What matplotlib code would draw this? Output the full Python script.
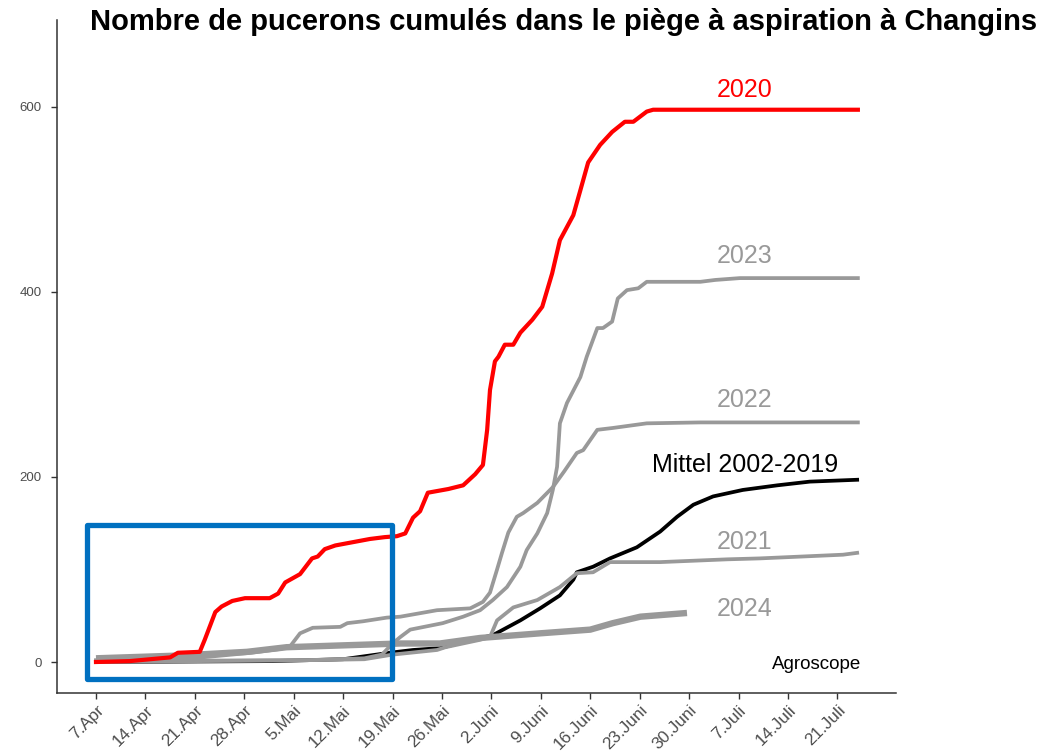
import matplotlib
matplotlib.use("Agg")
import matplotlib.pyplot as plt
from matplotlib.patches import Rectangle

plt.rcParams['font.family'] = ['Liberation Sans', 'DejaVu Sans']

# x = days since 7 April
tick_days = [0, 7, 14, 21, 28, 35, 42, 49, 56, 63, 70, 77, 84, 91, 98, 105]
tick_labels = ['7.Apr', '14.Apr', '21.Apr', '28.Apr', '5.Mai', '12.Mai', '19.Mai',
               '26.Mai', '2.Juni', '9.Juni', '16.Juni', '23.Juni', '30.Juni',
               '7.Juli', '14.Juli', '21.Juli']

d2020 = [0, 4.8, 10.5, 11.6, 14.7, 15.4, 16.9, 17.8, 19.3, 21.1, 24.6, 25.8, 26.8, 28.2, 28.9,
         30.6, 31.4, 32.4, 33.9, 35.3, 36.7, 38.8, 40.9, 42.6, 43.8, 44.9, 45.9, 47.0, 49.9,
         52.0, 53.7, 54.8, 55.4, 55.8, 56.5, 57.0, 57.9, 59.1, 60.1, 61.8, 63.2, 64.6, 65.7,
         67.6, 68.6, 69.7, 71.4, 73.1, 74.9, 76.1, 78.0, 78.9, 107.9]
v2020 = [0, 1, 5, 10, 11, 24, 54, 60, 66, 69, 69, 74, 86, 92, 95,
         112, 114, 122, 126, 128, 130, 133, 135, 136, 139, 156, 163, 183, 187,
         191, 203, 213, 251, 294, 325, 330, 343, 343, 356, 370, 384, 420, 456,
         483, 510, 540, 559, 573, 584, 584, 595, 597, 597]

d2023 = [0, 30, 38, 40.5, 42, 43.1, 44.5, 49.1, 52, 54.4, 56.2, 58.2, 60.1, 61, 62.5, 63.9,
         64.7, 65.3, 65.7, 66.7, 68.6, 69.5, 71, 71.8, 73.1, 73.9, 75.2, 76.8, 78, 85.6,
         87.7, 91.2, 107.9]
v2023 = [1, 2, 4, 8, 20, 27, 35, 42, 49, 56, 67, 81, 103, 121, 139, 161,
         186, 211, 258, 280, 308, 330, 361, 361, 368, 393, 402, 404, 411, 411,
         413, 415, 415]

d2022 = [0, 15, 22, 26, 27.5, 28.9, 30.7, 34.6, 35.6, 37.8, 41.2, 43.1, 48.3, 53, 54.8,
         55.8, 56.8, 57.5, 58.4, 59.6, 60.5, 62.5, 64.7, 66.3, 68.1, 69, 71, 73.2, 78,
         85.6, 107.9]
v2022 = [2, 5, 10, 14, 17, 31, 37, 38, 42, 44, 48, 49, 56, 58, 65,
         75, 100, 118, 140, 157, 161, 172, 189, 206, 226, 229, 251, 253, 258,
         259, 259]

dMittel = [0, 25, 35, 41.6, 44.9, 48.7, 53.4, 56.2, 60.1, 62.9, 65.7, 67.6, 68.1, 70.4,
           72.8, 76.6, 79.9, 82.3, 84.6, 87.4, 91.6, 96.5, 101.1, 107.8]
vMittel = [0, 1, 3, 10, 13, 15, 24, 29, 45, 58, 72, 89, 97, 103,
           112, 124, 141, 157, 170, 179, 186, 191, 195, 197]

d2021 = [0, 30, 38, 42, 48.3, 49.5, 54.4, 55.8, 56.8, 59.1, 62.5, 65.7, 68.1, 70.4, 72.8,
         79.9, 89.4, 94, 105.8, 107.8]
v2021 = [0, 2, 3, 8, 13, 16, 24, 27, 45, 59, 67, 81, 96, 97, 108,
         108, 111, 112, 116, 118]

d2024 = [0, 11.9, 21.4, 27, 35, 43.1, 48.7, 54.4, 62.9, 70, 73.2, 77.1, 83.7]
v2024 = [4, 7, 11, 16, 18, 20, 20, 26, 31, 35, 42, 49, 53]

GREY = '#999999'

fig = plt.figure(figsize=(10.61, 7.55), dpi=100)
ax = fig.add_axes([57/1061, 1-693/755, (896-57)/1061, (693-20)/755])

ax.plot(dMittel, vMittel, color='black', lw=2.7, zorder=2)
ax.plot(d2024, v2024, color=GREY, lw=4.6, solid_capstyle='butt', zorder=3)
ax.plot(d2021, v2021, color=GREY, lw=2.7, zorder=3)
ax.plot(d2022, v2022, color=GREY, lw=2.7, zorder=3)
ax.plot(d2023, v2023, color=GREY, lw=2.7, zorder=3)
ax.plot(d2020, v2020, color='#FF0000', lw=3.0, zorder=4)

lab_x = 91.9
fs = 18
ax.text(lab_x, 618, '2020', color='#FF0000', fontsize=fs, ha='center', va='center')
ax.text(lab_x, 439, '2023', color=GREY, fontsize=fs, ha='center', va='center')
ax.text(lab_x, 283, '2022', color=GREY, fontsize=fs, ha='center', va='center')
ax.text(lab_x, 213, 'Mittel 2002-2019', color='black', fontsize=fs, ha='center', va='center')
ax.text(lab_x, 130, '2021', color=GREY, fontsize=fs, ha='center', va='center')
ax.text(lab_x, 57, '2024', color=GREY, fontsize=fs, ha='center', va='center')
ax.text(102.1, -3, 'Agroscope', color='black', fontsize=13.5, ha='center', va='center')

rect = Rectangle((-1.3, -18), 43.2, 166, fill=False, edgecolor='#0070C0', lw=3.8,
                 joinstyle='round', zorder=5)
ax.add_patch(rect)

ax.set_xlim(-5.52, 113.3)
ax.set_ylim(-33.5, 694)
ax.set_xticks(tick_days)
ax.set_xticklabels(tick_labels, rotation=45, ha='right', rotation_mode='anchor')
ax.set_yticks([0, 200, 400, 600])
ax.tick_params(axis='x', labelsize=12.3, colors='#333333', labelcolor='#4d4d4d', length=4, width=1, pad=3)
ax.tick_params(axis='y', labelsize=9.5, colors='#333333', labelcolor='#4d4d4d', length=4, width=1, pad=7)
for s in ['top', 'right']:
    ax.spines[s].set_visible(False)
for s in ['left', 'bottom']:
    ax.spines[s].set_color('#333333')
    ax.spines[s].set_linewidth(1.1)

fig.text(564/1061, 1-22/755, 'Nombre de pucerons cumulés dans le piège à aspiration à Changins',
         fontsize=21, fontweight='bold', ha='center', va='center')

fig.savefig('out.png', dpi=100)
